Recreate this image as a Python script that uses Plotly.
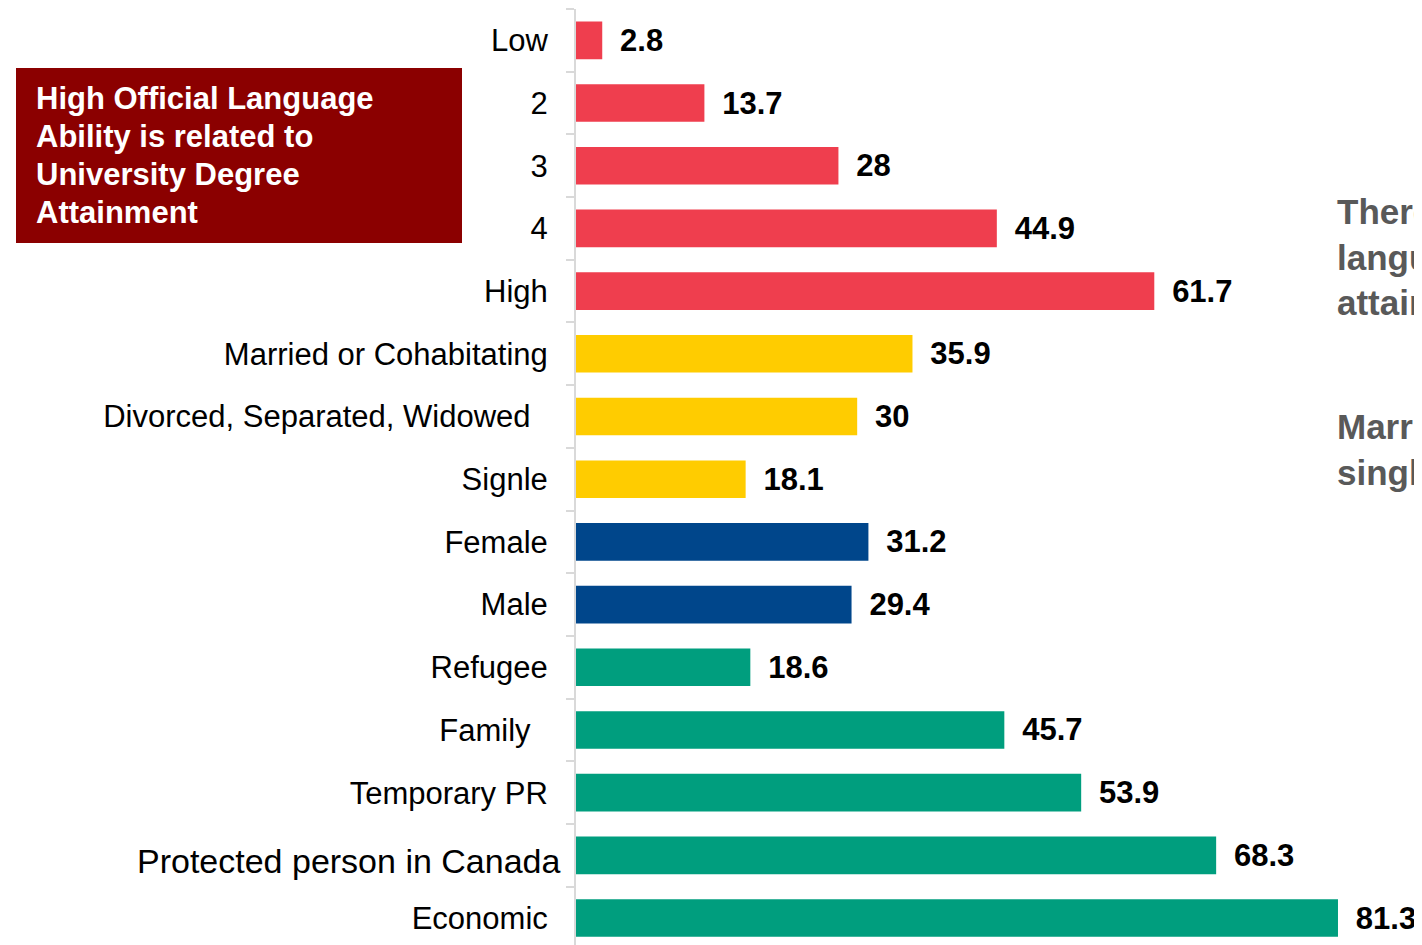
import plotly.graph_objects as go

categories = ["Low", "2", "3", "4", "High",
              "Married or Cohabitating", "Divorced, Separated, Widowed\u00a0\u00a0", "Signle",
              "Female", "Male",
              "Refugee", "Family\u00a0\u00a0", "Temporary PR", "Protected person in Canada", "Economic"]
values = [2.8, 13.7, 28, 44.9, 61.7, 35.9, 30, 18.1, 31.2, 29.4, 18.6, 45.7, 53.9, 68.3, 81.3]
groups = ["lang"] * 5 + ["marital"] * 3 + ["sex"] * 2 + ["admission"] * 5

box_lines = ["High Official Language", "Ability is related to", "University Degree", "Attainment"]
note1 = "There is a strong relationship between official<br>language ability and university degree<br>attainment"
note2 = "Married immigrants are more likely than<br>single immigrants to hold a degree"

group_colors = {"lang": "#EF3E4E", "marital": "#FFCC00", "sex": "#00468B", "admission": "#009E7E"}
colors = [group_colors[g] for g in groups]

SPECIAL = 13  # label drawn separately (larger and offset, as in the reference)
tick_text = [("\u00a0" if i == SPECIAL else c) for i, c in enumerate(categories)]

FONT = "Liberation Sans, Arial, sans-serif"

fig = go.Figure(go.Bar(
    y=categories, x=values, orientation="h",
    marker=dict(color=colors, line=dict(width=0)),
    text=values, texttemplate="\u00a0\u2009<b>%{x}</b>", textposition="outside",
    textfont=dict(family=FONT, size=31, color="#000000"),
    cliponaxis=False, width=0.6,
))

annotations = [
    dict(xref="paper", yref="y", x=(562 - 576) / 844, y=categories[SPECIAL],
         xanchor="right", yanchor="middle", yshift=-6, showarrow=False,
         text=categories[SPECIAL], font=dict(size=34, color="#000000", family=FONT)),
    dict(xref="paper", yref="paper", x=(1335 - 576) / 844, y=(945 - 190) / 936,
         xanchor="left", yanchor="top", align="left", showarrow=False,
         text="<b>" + note1 + "</b>", font=dict(size=35, color="#595959", family=FONT)),
    dict(xref="paper", yref="paper", x=(1335 - 576) / 844, y=(945 - 405) / 936,
         xanchor="left", yanchor="top", align="left", showarrow=False,
         text="<b>" + note2 + "</b>", font=dict(size=35, color="#595959", family=FONT)),
]
for k, line in enumerate(box_lines):
    annotations.append(dict(
        xref="paper", yref="paper", x=-542 / 844, y=(945 - (79 + 38 * k)) / 936,
        xanchor="left", yanchor="top", align="left", showarrow=False,
        text="<b>" + line + "</b>", font=dict(size=31, color="white", family=FONT)))

fig.update_layout(
    width=1414, height=937,
    margin=dict(l=568, r=2, t=1, b=0),
    plot_bgcolor="white", paper_bgcolor="white",
    showlegend=False,
    font=dict(family=FONT, color="#000000"),
    xaxis=dict(range=[0, 90.05], visible=False, fixedrange=True),
    yaxis=dict(
        type="category", categoryorder="array", categoryarray=categories,
        tickvals=categories, ticktext=tick_text,
        range=[14.43, -0.5],
        showline=True, linecolor="#D9D9D9", linewidth=2,
        ticks="outside", tickson="boundaries", ticklen=8, tickcolor="#D9D9D9", tickwidth=2,
        ticklabelstandoff=20,
        tickfont=dict(size=31, color="#000000", family=FONT),
        showgrid=False, zeroline=False,
    ),
    shapes=[dict(type="rect", xref="paper", yref="paper",
                 x0=-560 / 844, x1=-114 / 844, y0=(945 - 68) / 936, y1=(945 - 243) / 936,
                 fillcolor="#8B0000", line=dict(width=0), layer="above")],
    annotations=annotations,
)

fig.write_html("out.html")
